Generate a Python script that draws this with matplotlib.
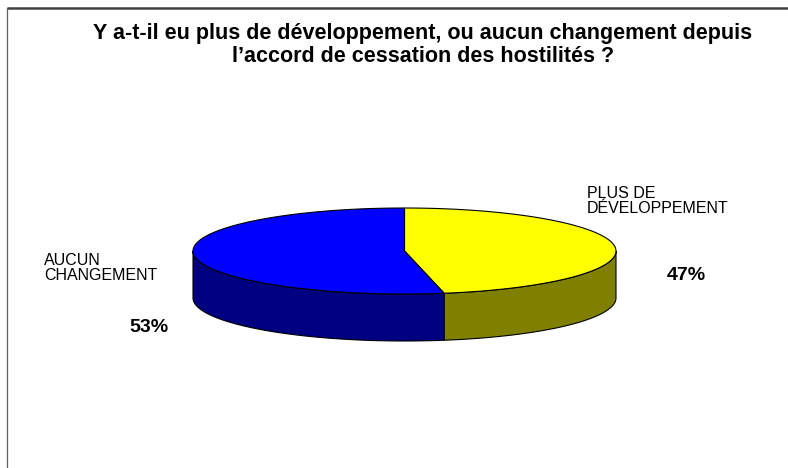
"""3D-style pie chart: development since the cessation of hostilities."""

import matplotlib

matplotlib.use("Agg")
import matplotlib.pyplot as plt
import numpy as np
from matplotlib.patches import Polygon

plt.rcParams["font.family"] = ["Liberation Sans", "DejaVu Sans"]

TITLE = ("Y a-t-il eu plus de développement, ou aucun changement depuis\n"
         "l’accord de cessation des hostilités ?")
LABELS = ["PLUS DE\nDÉVELOPPEMENT", "AUCUN\nCHANGEMENT"]
VALUES = [47, 53]
TOP_COLORS = ["#FFFF00", "#0000FF"]
SIDE_COLORS = ["#808000", "#000080"]

# pie geometry in pixel coordinates
CX, CY = 404.5, 251.0
RX, RY = 211.5, 43.0
DEPTH = 47.0


def rim(t0, t1, n=120):
    t = np.radians(np.linspace(t0, t1, n))
    return np.column_stack([CX + RX * np.cos(t), CY - RY * np.sin(t)])


fig = plt.figure(figsize=(7.88, 4.68), dpi=100)
ax = fig.add_axes([0, 0, 1, 1])
ax.set_xlim(0, 788)
ax.set_ylim(468, 0)
ax.axis("off")

# frame lines (top and left only)
ax.plot([7, 788], [8, 8], color="#404040", lw=1.8, solid_capstyle="butt")
ax.plot([7, 7], [8, 468], color="#606060", lw=0.9)

# slice angles, clockwise from 12 o'clock
total = sum(VALUES)
spans = []
start = 90.0
for v in VALUES:
    end = start - v / total * 360.0
    spans.append((end, start))
    start = end

# side walls (front half only: angles 180..360)
for (t0, t1), col in zip(spans, SIDE_COLORS):
    a0, a1 = t0 % 360, t1 % 360
    if a1 <= a0:
        a1 += 360
    for lo, hi in [(180, 360), (540, 720)]:
        s0, s1 = max(a0, lo), min(a1, hi)
        if s1 <= s0:
            continue
        top = rim(s0, s1)
        bot = top[::-1].copy()
        bot[:, 1] += DEPTH
        ax.add_patch(Polygon(np.vstack([top, bot]), closed=True,
                             facecolor=col, edgecolor="black", lw=0.8))

# top faces
for (t0, t1), col in zip(spans, TOP_COLORS):
    pts = np.vstack([[CX, CY], rim(t0, t1)])
    ax.add_patch(Polygon(pts, closed=True, facecolor=col,
                         edgecolor="black", lw=0.8))

ax.text(423, 45, TITLE, ha="center", va="center", fontsize=15.5,
        fontweight="bold", linespacing=1.08)

ax.text(587, 201, LABELS[0], ha="left", va="center", fontsize=11.5,
        linespacing=1.0)
ax.text(686, 276, f"{VALUES[0]}%", ha="center", va="center",
        fontsize=14, fontweight="bold")
ax.text(44, 268, LABELS[1], ha="left", va="center", fontsize=11.5,
        linespacing=1.0)
ax.text(149, 328, f"{VALUES[1]}%", ha="center", va="center",
        fontsize=14, fontweight="bold")

fig.savefig("out.png", dpi=100, facecolor="white")
